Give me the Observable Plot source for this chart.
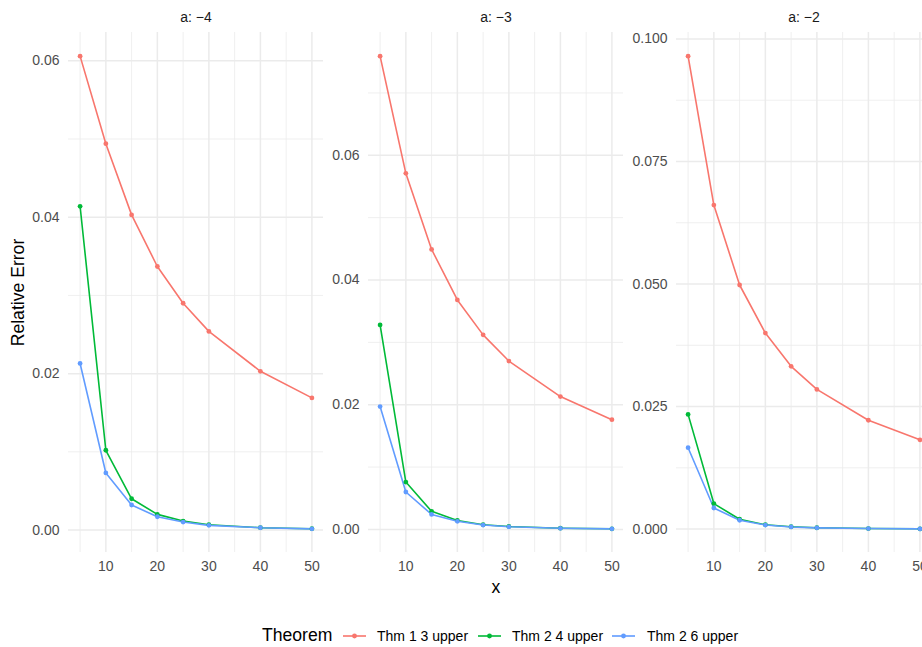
<!DOCTYPE html>
<html>
<head>
<meta charset="utf-8">
<script src="https://cdn.jsdelivr.net/npm/d3@7"></script>
<script src="https://cdn.jsdelivr.net/npm/@observablehq/plot@0.6"></script>
<style>
  html, body { margin: 0; padding: 0; background: #fff; overflow: hidden; }
  #wrap { position: relative; width: 922px; height: 647px; overflow: hidden; font-family: "Liberation Sans", Arial, sans-serif; }
  #wrap svg { position: absolute; top: 0; max-width: none; }
  .leg { position: absolute; top: 636px; transform: translateY(-50%); line-height: 1; white-space: nowrap; color: #000; }
</style>
</head>
<body>
<div id="wrap"></div>
<script>
// ---- data ----
const xValues = [5, 10, 15, 20, 25, 30, 40, 50];
const facetLabels = ["a: \u22124", "a: \u22123", "a: \u22122"];
const theorems = ["Thm 1 3 upper", "Thm 2 4 upper", "Thm 2 6 upper"];
const colors = ["#F8766D", "#00BA38", "#619CFF"];

// a = -4
const aM4_thm13 = [0.0606, 0.0494, 0.0403, 0.0337, 0.0290, 0.0254, 0.0203, 0.0169];
const aM4_thm24 = [0.0414, 0.0102, 0.0040, 0.0020, 0.00115, 0.00068, 0.00030, 0.00017];
const aM4_thm26 = [0.0213, 0.0073, 0.0032, 0.0017, 0.00102, 0.00060, 0.00029, 0.00015];
// a = -3
const aM3_thm13 = [0.0759, 0.0571, 0.0449, 0.0368, 0.0312, 0.0270, 0.0213, 0.0176];
const aM3_thm24 = [0.0328, 0.0076, 0.0029, 0.00144, 0.00075, 0.00048, 0.00020, 0.00010];
const aM3_thm26 = [0.0197, 0.0060, 0.0024, 0.0013, 0.00070, 0.00042, 0.00018, 0.00009];
// a = -2
const aM2_thm13 = [0.0965, 0.0661, 0.0498, 0.0400, 0.0332, 0.0285, 0.0222, 0.0182];
const aM2_thm24 = [0.0234, 0.0052, 0.0020, 0.00088, 0.00047, 0.00027, 0.00010, 0.00005];
const aM2_thm26 = [0.0166, 0.0043, 0.0018, 0.00082, 0.00043, 0.00025, 0.00010, 0.00004];

const seriesByFacet = [
  [aM4_thm13, aM4_thm24, aM4_thm26],
  [aM3_thm13, aM3_thm24, aM3_thm26],
  [aM2_thm13, aM2_thm24, aM2_thm26]
];

const xMajor = [10, 20, 30, 40, 50];
const xMinor = [5, 15, 25, 35, 45];
const yMajorTicks = [
  [0, 0.02, 0.04, 0.06],
  [0, 0.02, 0.04, 0.06],
  [0, 0.025, 0.05, 0.075, 0.1]
];
const yMinorTicks = [
  [0.01, 0.03, 0.05],
  [0.01, 0.03, 0.05, 0.07],
  [0.0125, 0.0375, 0.0625, 0.0875]
];
const yFormats = [".2f", ".2f", ".3f"];

// ---- layout ----
const panelW = 255;
const svgLefts = [0, 323, 623];
const marginLefts = [68, 45, 53];
const panelTop = 32, panelH = 520, svgH = 600;
const FONT = '"Liberation Sans", Arial, sans-serif';

const wrap = document.getElementById("wrap");
const xExt = d3.extent(xValues), xR = xExt[1] - xExt[0];
const xDomain = [xExt[0] - 0.05 * xR, xExt[1] + 0.05 * xR];

seriesByFacet.forEach((series, fi) => {
  const rows = [];
  series.forEach((vals, ti) => vals.forEach((v, i) => rows.push({theorem: theorems[ti], x: xValues[i], y: v})));
  const ext = d3.extent(rows, d => d.y), r = ext[1] - ext[0];
  const yDomain = [ext[0] - 0.05 * r, ext[1] + 0.05 * r];
  const ml = marginLefts[fi];
  const marks = [
    Plot.gridX(xMinor, {stroke: "#EBEBEB", strokeOpacity: 1, strokeWidth: 0.8}),
    Plot.gridY(yMinorTicks[fi], {stroke: "#EBEBEB", strokeOpacity: 1, strokeWidth: 0.8}),
    Plot.gridX(xMajor, {stroke: "#EBEBEB", strokeOpacity: 1, strokeWidth: 1.5}),
    Plot.gridY(yMajorTicks[fi], {stroke: "#EBEBEB", strokeOpacity: 1, strokeWidth: 1.5}),
    Plot.axisX(xMajor, {tickSize: 0, tickPadding: 9, label: null, fontSize: 14, fill: "#4D4D4D"}),
    Plot.axisY(yMajorTicks[fi], {tickSize: 0, tickPadding: 9, label: null, fontSize: 14, fill: "#4D4D4D", tickFormat: d3.format(yFormats[fi])}),
    Plot.line(rows, {x: "x", y: "y", stroke: "theorem", z: "theorem", strokeWidth: 1.6}),
    Plot.dot(rows, {x: "x", y: "y", fill: "theorem", r: 2.4}),
    Plot.text([facetLabels[fi]], {text: d => d, frameAnchor: "top", lineAnchor: "middle", dy: -15, fontSize: 14, fill: "#1A1A1A"})
  ];
  if (fi === 0) marks.push(Plot.text(["Relative Error"], {text: d => d, frameAnchor: "left", textAnchor: "middle", lineAnchor: "middle", rotate: -90, dx: -50, fontSize: 17.6, fill: "#000"}));
  if (fi === 1) marks.push(Plot.text(["x"], {text: d => d, frameAnchor: "bottom", lineAnchor: "middle", dy: 35, fontSize: 17.6, fill: "#000"}));
  const svg = Plot.plot({
    width: ml + panelW + 8,
    height: svgH,
    marginLeft: ml,
    marginRight: 8,
    marginTop: panelTop,
    marginBottom: svgH - panelTop - panelH,
    x: {domain: xDomain, axis: null},
    y: {domain: yDomain, axis: null},
    color: {domain: theorems, range: colors},
    style: {fontFamily: FONT, fontSize: "14px", background: "transparent", overflow: "visible"},
    marks
  });
  svg.style.left = svgLefts[fi] + "px";
  wrap.appendChild(svg);
});

// ---- legend ----
function addText(txt, left, size) {
  const d = document.createElement("div");
  d.className = "leg";
  d.style.left = left + "px";
  d.style.fontSize = size + "px";
  d.textContent = txt;
  wrap.appendChild(d);
}
addText("Theorem", 262, 17.6);
const keyLefts = [342, 477, 611];
const labelLefts = [377, 512, 647];
theorems.forEach((t, i) => {
  const ns = "http://www.w3.org/2000/svg";
  const s = document.createElementNS(ns, "svg");
  s.setAttribute("width", 25); s.setAttribute("height", 10);
  s.style.position = "absolute"; s.style.left = keyLefts[i] + "px"; s.style.top = "631px";
  const ln = document.createElementNS(ns, "line");
  ln.setAttribute("x1", 1); ln.setAttribute("x2", 24); ln.setAttribute("y1", 5); ln.setAttribute("y2", 5);
  ln.setAttribute("stroke", colors[i]); ln.setAttribute("stroke-width", 1.6);
  const c = document.createElementNS(ns, "circle");
  c.setAttribute("cx", 12.5); c.setAttribute("cy", 5); c.setAttribute("r", 2.4); c.setAttribute("fill", colors[i]);
  s.appendChild(ln); s.appendChild(c);
  wrap.appendChild(s);
  addText(t, labelLefts[i], 14);
});
</script>
</body>
</html>
